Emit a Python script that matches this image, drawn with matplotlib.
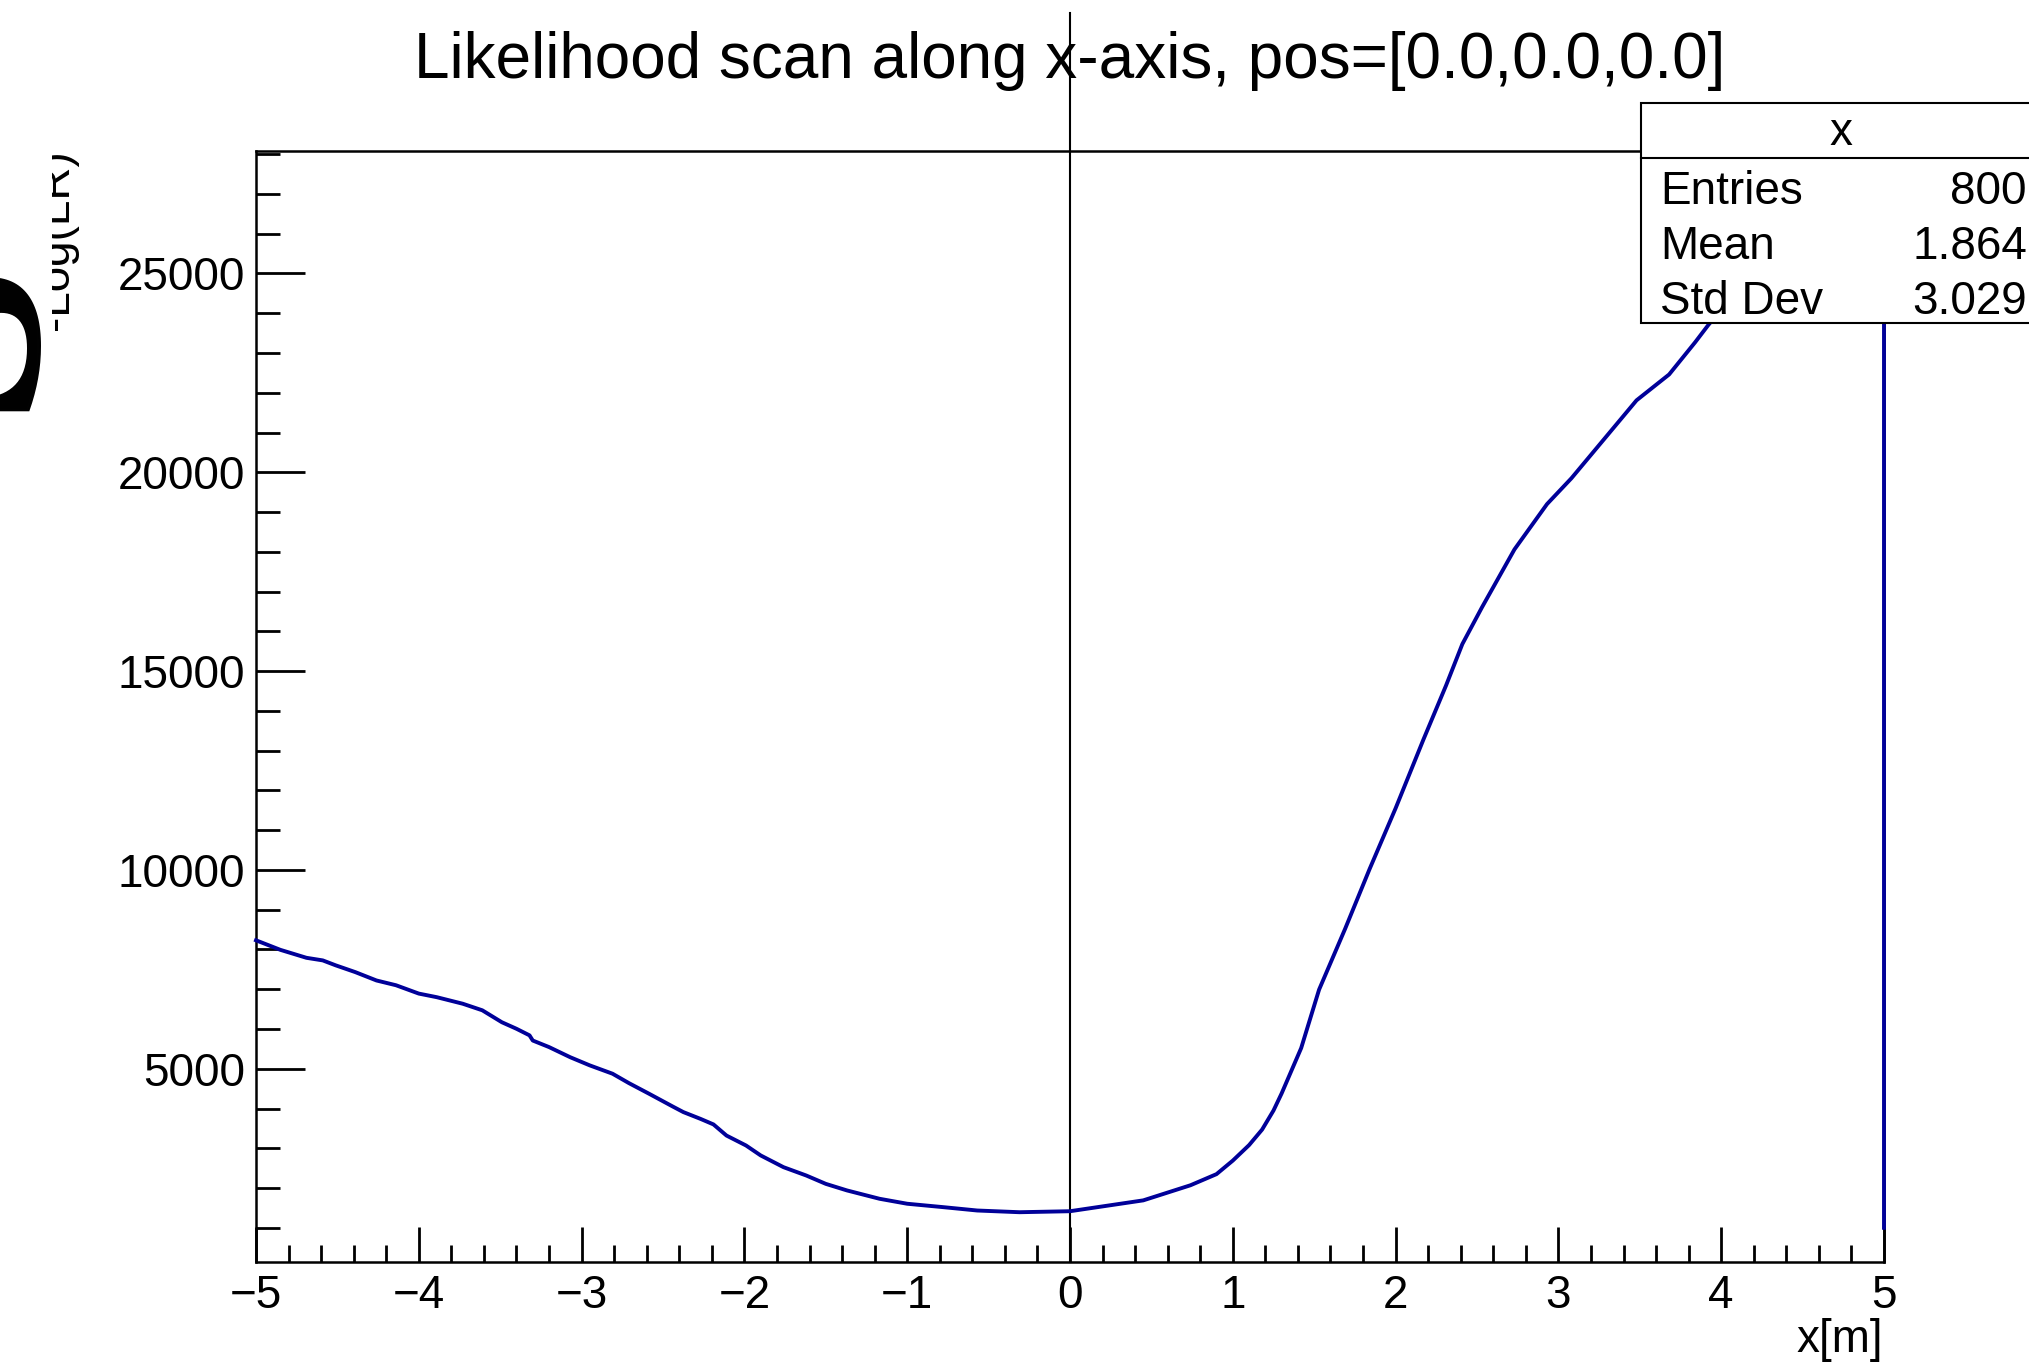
import numpy as np
import matplotlib.pyplot as plt
from matplotlib.patches import Rectangle
from matplotlib.lines import Line2D
from matplotlib.transforms import Bbox
from matplotlib.ticker import MultipleLocator

plt.rcParams['font.family'] = ['Liberation Sans', 'DejaVu Sans']

# scan points along x (m) and the -log(LR) value at each
x_pos = [-5.0, -4.85, -4.69, -4.59, -4.51, -4.39, -4.26, -4.14, -4.0, -3.89,
         -3.73, -3.61, -3.49, -3.40, -3.32, -3.30, -3.20, -3.07, -2.95, -2.81,
         -2.71, -2.585, -2.44, -2.375, -2.27, -2.19, -2.11, -1.99, -1.90, -1.76,
         -1.62, -1.50, -1.37, -1.17, -1.00, -0.78, -0.57, -0.31, 0.0,
         0.45, 0.74, 0.9, 1.0, 1.1, 1.18, 1.25, 1.30, 1.42, 1.53, 1.69, 1.84, 2.0,
         2.17, 2.31, 2.41, 2.53, 2.73, 2.93, 3.08, 3.28, 3.48, 3.68,
         3.84, 3.92, 4.0, 4.2, 4.5, 4.8, 5.0]
nll = [8230, 7990, 7790, 7725, 7600, 7430, 7220, 7100, 6890, 6800,
       6635, 6470, 6170, 6005, 5840, 5710, 5545, 5290, 5085, 4875,
       4640, 4370, 4050, 3910, 3740, 3600, 3320, 3070, 2820, 2525,
       2315, 2105, 1940, 1730, 1605, 1520, 1435, 1392, 1417,
       1690, 2070, 2350, 2690, 3080, 3470, 3950, 4380, 5520, 6990, 8520, 10020, 11550,
       13270, 14640, 15680, 16600, 18060, 19200, 19850, 20830, 21810, 22460,
       23270, 23700, 24090, 24700, 25500, 26300, 26800]
edge_floor = 1000

stats_labels = ['Entries', 'Mean', 'Std Dev']
stats_values = ['800', '1.864', '3.029']
hist_name = 'x'

W, H = 2029, 1362
fig = plt.figure(figsize=(W / 100, H / 100), dpi=100)
ax = fig.add_axes([256 / W, 100 / H, (1884 - 256) / W, (1262 - 151) / H])

line_col = '#000099'
ax.plot(x_pos + [x_pos[-1]], nll + [edge_floor], color=line_col, lw=2.8,
        zorder=3, clip_on=False, solid_joinstyle='round')

ax.set_xlim(-5, 5)
ax.set_ylim(140, 28080)

ax.xaxis.set_major_locator(MultipleLocator(1))
ax.xaxis.set_minor_locator(MultipleLocator(0.2))
ax.yaxis.set_major_locator(MultipleLocator(5000))
ax.yaxis.set_minor_locator(MultipleLocator(1000))
ax.tick_params(axis='both', which='both', direction='in', top=False, right=False,
               width=2, labelsize=33, color='black')
ax.tick_params(axis='y', which='major', length=35, pad=8)
ax.tick_params(axis='y', which='minor', length=17)
ax.tick_params(axis='x', which='major', length=25, pad=9)
ax.tick_params(axis='x', which='minor', length=12)
for sp in ax.spines.values():
    sp.set_linewidth(1.8)

# vertical marker at the scan origin, running up through the title
ax.axvline(0, ymin=0, ymax=(1262 - 13) / (1262 - 151), color='black', lw=1.5,
           clip_on=False, zorder=2.6)

fig.text((256 + 1884) / 2 / W, 1 - 61 / H,
         'Likelihood scan along x-axis, pos=[0.0,0.0,0.0]',
         ha='center', va='center', fontsize=46)

fig.text(1883 / W, 1 - 1340 / H, 'x[m]', ha='right', va='center', fontsize=33)

# y title: big S with a -Log(LR) subscript, partly off the canvas
fig.text(72 / W, 1 - 330 / H, 'S', rotation=90, ha='right', va='center',
         fontsize=165, family='DejaVu Serif', weight='bold')
sub = fig.text(78 / W, 1 - 240 / H, '-Log(LR)', rotation=90, ha='right',
               va='center', fontsize=33)
sub.set_clip_box(Bbox.from_extents(52, 0, 300, H - 151))
sub.set_clip_on(True)

# statistics box
bx0, bx1 = 1641, 2041
by0, by1 = 103, 323
fig.add_artist(Rectangle((bx0 / W, 1 - by1 / H), (bx1 - bx0) / W, (by1 - by0) / H,
                         transform=fig.transFigure, facecolor='white',
                         edgecolor='black', lw=1.5, zorder=5))
fig.add_artist(Line2D([bx0 / W, bx1 / W], [1 - 158 / H, 1 - 158 / H],
                      transform=fig.transFigure, color='black', lw=1.5, zorder=6))
fig.text((bx0 + bx1) / 2 / W, 1 - 133 / H, hist_name, ha='center', va='center',
         fontsize=33, zorder=7)
for i, (lab, val) in enumerate(zip(stats_labels, stats_values)):
    yy = 1 - (192 + 55 * i) / H
    fig.text(1660 / W, yy, lab, ha='left', va='center', fontsize=33, zorder=7)
    fig.text(2027 / W, yy, val, ha='right', va='center', fontsize=33, zorder=7)

fig.savefig('out.png', dpi=100)
